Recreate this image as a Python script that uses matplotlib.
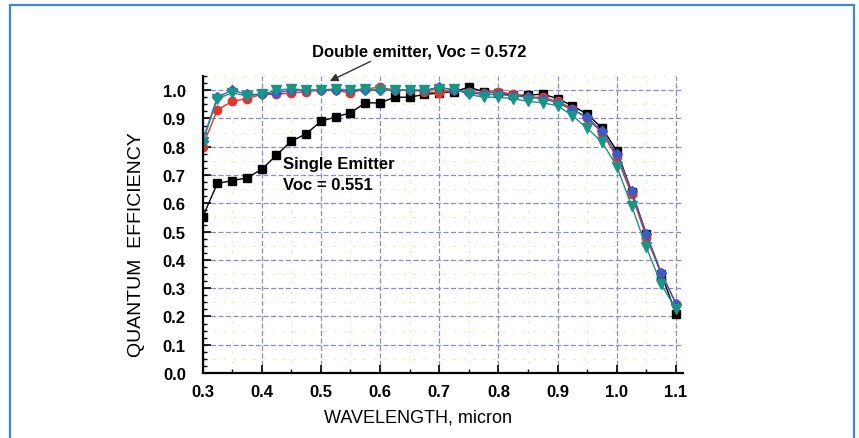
import numpy as np
import matplotlib.pyplot as plt
from matplotlib.patches import Rectangle
from matplotlib.ticker import MultipleLocator

# wavelength in micron, one point every 0.025
wavelength = [0.3, 0.325, 0.35, 0.375, 0.4, 0.425, 0.45, 0.475, 0.5, 0.525, 0.55,
              0.575, 0.6, 0.625, 0.65, 0.675, 0.7, 0.725, 0.75, 0.775, 0.8, 0.825,
              0.85, 0.875, 0.9, 0.925, 0.95, 0.975, 1.0, 1.025, 1.05, 1.075, 1.1]

# single emitter cell
qe_single = [0.55, 0.67, 0.68, 0.69, 0.72, 0.77, 0.82, 0.845, 0.89, 0.905, 0.92,
             0.955, 0.955, 0.975, 0.975, 0.985, 0.99, 0.995, 1.01, 0.995, 0.99, 0.982,
             0.982, 0.986, 0.97, 0.945, 0.915, 0.866, 0.786, 0.641, 0.491, 0.35, 0.21]

# double emitter cells
qe_red = [0.80, 0.93, 0.96, 0.97, 0.985, 0.985, 0.99, 0.995, 1.0, 1.0, 0.99,
          1.005, 1.01, 1.0, 1.0, 0.995, 0.99, 1.0, 0.995, 0.99, 0.995, 0.985,
          0.975, 0.975, 0.96, 0.935, 0.9, 0.85, 0.762, 0.632, 0.479, 0.353, 0.245]

qe_blue = [0.82, 0.975, 1.0, 0.985, 0.985, 0.99, 1.0, 1.0, 1.0, 1.0, 1.0,
           1.0, 1.0, 1.0, 1.0, 1.0, 1.01, 1.0, 0.99, 0.985, 0.985, 0.98,
           0.975, 0.97, 0.955, 0.93, 0.905, 0.855, 0.775, 0.645, 0.49, 0.355, 0.245]

qe_teal = [0.815, 0.97, 0.99, 0.98, 0.985, 1.0, 1.005, 1.0, 1.0, 1.005, 1.0,
           1.005, 1.0, 1.0, 1.0, 1.0, 1.005, 1.005, 0.985, 0.975, 0.975, 0.97,
           0.96, 0.955, 0.945, 0.91, 0.865, 0.817, 0.73, 0.591, 0.444, 0.314, 0.225]

plt.rcParams['font.family'] = ['Liberation Sans', 'DejaVu Sans']

fig = plt.figure(figsize=(8.59, 4.39), dpi=100)

# thin blue frame round the figure, open at the bottom
fig.add_artist(Rectangle((9.5 / 859, -0.05), (853.5 - 9.5) / 859, 1.05 - 6 / 439,
                         transform=fig.transFigure, fill=False,
                         edgecolor='#3b87c9', linewidth=1.6))

ax = fig.add_axes([202.5 / 859, 65 / 439, 480 / 859, 297 / 439])
ax.set_xlim(0.3, 1.111)
ax.set_ylim(0.0, 1.05)

xt = np.round(np.arange(0.3, 1.11, 0.1), 1)
yt = np.round(np.arange(0.0, 1.01, 0.1), 1)
ax.set_xticks(xt)
ax.set_yticks(yt)
ax.xaxis.set_minor_locator(MultipleLocator(0.05))
ax.yaxis.set_minor_locator(MultipleLocator(0.025))

ax.grid(True, which='major', color='#8a8ad0', linestyle=(0, (4, 2)), linewidth=0.9)
# faint yellow midlines between the main grid lines
for x in xt[:-1] + 0.05:
    ax.axvline(x, color='#f4e4ae', linestyle=(0, (2, 7)), linewidth=0.8, zorder=0.5)
for y in yt + 0.05:
    ax.axhline(y, color='#f4e4ae', linestyle=(0, (2, 7)), linewidth=0.8, zorder=0.5)
ax.set_axisbelow(True)

for side in ('top', 'right'):
    ax.spines[side].set_visible(False)
for side in ('left', 'bottom'):
    ax.spines[side].set_linewidth(1.6)

ax.tick_params(which='major', direction='in', length=6, width=1.2,
               labelsize=12, pad=8)
ax.tick_params(axis='y', which='major', pad=12)
ax.tick_params(which='minor', direction='in', length=3, width=1)
ax.set_xticklabels([f'{v:.1f}' for v in xt], fontweight='bold')
ax.set_yticklabels([f'{v:.1f}' for v in yt], fontweight='bold')

ax.plot(wavelength, qe_single, color='black', marker='s', markersize=6, linewidth=1.0)
ax.plot(wavelength, qe_red, color='#e8322c', marker='o', markersize=6, linewidth=1.0)
ax.plot(wavelength, qe_blue, color='#3a5cc4', marker='D', markersize=5.5, linewidth=1.0)
ax.plot(wavelength, qe_teal, color='#1a9486', marker='v', markersize=6.5, linewidth=1.0)

ax.set_xlabel('WAVELENGTH, micron', fontsize=13)
ax.xaxis.set_label_coords(0.45, -0.118)
ax.set_ylabel('QUANTUM  EFFICIENCY', fontsize=14)
ax.yaxis.set_label_coords(-0.12, 0.436)

ax.annotate('Double emitter, Voc = 0.572', xy=(0.515, 1.032), xytext=(0.485, 1.138),
            textcoords='data', fontsize=12, fontweight='bold', va='center', ha='left',
            annotation_clip=False,
            arrowprops=dict(arrowstyle='-|>', color='#333333', lw=1.0,
                            shrinkA=0, shrinkB=0,
                            relpos=(0.3, 0.0)))

ax.text(0.436, 0.739, 'Single Emitter', fontsize=12, fontweight='bold', va='center')
ax.text(0.436, 0.668, 'Voc = 0.551', fontsize=12, fontweight='bold', va='center')

fig.savefig('out.png', dpi=100)
